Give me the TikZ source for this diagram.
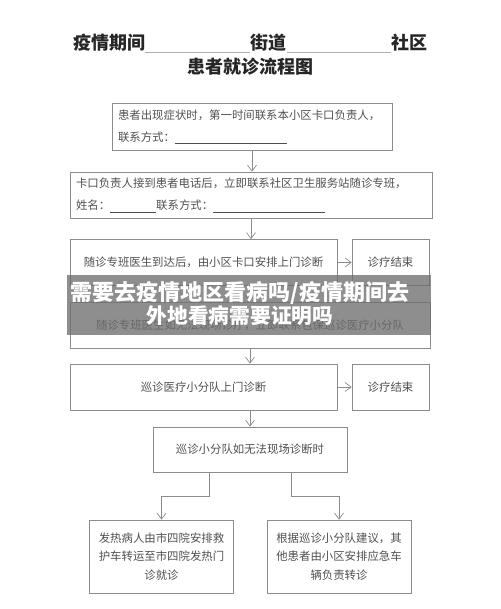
\documentclass[tikz,border=0pt]{standalone}
\usepackage{fontspec}
\newfontfamily\cjk{Noto Sans CJK SC}
\usetikzlibrary{arrows.meta}

\definecolor{linegray}{HTML}{8C8C8C}
\definecolor{textgray}{HTML}{4F4F4F}
\definecolor{bandgray}{HTML}{6E6E6E}

\newcommand{\blank}[1]{\textcolor{textgray}{\rule[-2.5pt]{#1}{0.5pt}}}

\begin{document}
\begin{tikzpicture}[x=1pt, y=-1pt,
  box/.style={draw=linegray, line width=0.7pt, text=textgray, inner xsep=6pt, inner ysep=0pt,
              font=\cjk\fontsize{11.4}{22}\selectfont, minimum height=46pt, align=center},
  lbox/.style={box, align=left},
  tbox/.style={box, font=\cjk\fontsize{11.4}{18.5}\selectfont, minimum height=73pt},
  head/.style={font=\cjk\bfseries\fontsize{18}{20}\selectfont, text=black!85, inner sep=0pt},
  arr/.style={-{Straight Barb[length=6pt, width=9pt]}, draw=linegray, line width=0.7pt}]
  \useasboundingbox (0,0) rectangle (500,609);
  % heading
  \node[head] (period) at (109,43) {疫情期间};
  \node[head] (street) at (268.5,43) {街道};
  \node[head] (comm)   at (409,43) {社区};
  \node[head] (title)  at (250.5,67) {患者就诊流程图};
  \draw[linegray!70, line width=0.6pt] (145,52) -- (250,52) (287,52) -- (391,52);
  % steps
  \node[lbox, text width=268pt, minimum height=47pt] (call) at (252,126.5)
    {患者出现症状时，第一时间联系本小区卡口负责人，\\联系方式：\blank{112pt}};
  \node[lbox, text width=350pt] (guard) at (251,195)
    {卡口负责人接到患者电话后，立即联系社区卫生服务站随诊专班，\\姓名：\blank{46pt}联系方式：\blank{112pt}};
  \node[box, minimum width=267pt] (visit) at (203.5,262.5) {随诊专班医生到达后，由小区卡口安排上门诊断};
  \node[box, minimum width=77pt] (endA) at (390.5,262.5) {诊疗结束};
  \node[box, minimum width=360pt] (team) at (250,325) {随诊专班医生如无法现场诊疗，立即联系包保巡诊医疗小分队};
  \node[box, minimum width=267pt] (patrol) at (203.5,387) {巡诊医疗小分队上门诊断};
  \node[box, minimum width=77pt] (endB) at (390.5,387) {诊疗结束};
  \node[box, minimum width=194pt, minimum height=45pt] (fail) at (250,449.5) {巡诊小分队如无法现场诊断时};
  \node[tbox, text width=132pt] (fever) at (161.5,556.5)
    {发热病人由市四院安排救\\护车转运至市四院发热门\\诊就诊};
  \node[tbox, text width=132pt] (other) at (339,556.5)
    {根据巡诊小分队建议，其\\他患者由小区安排应急车\\辆负责转诊};
  \coordinate (splitL) at (209,496);
  \coordinate (splitR) at (291,496);
  % connectors
  \draw[arr] (call.south) -- (call.south |- guard.north);
  \draw[arr] (guard.south) -- (guard.south |- visit.north);
  \draw[arr] (visit) -- (endA);
  \draw[arr] (visit.south -| team.north) -- (team.north);
  \draw[arr] (team.south) -- (team.south |- patrol.north);
  \draw[arr] (patrol) -- (endB);
  \draw[arr] (patrol.south -| fail.north) -- (fail.north);
  \draw[arr] (fail.south -| splitL) -- (splitL) -| (fever.north);
  \draw[arr] (fail.south -| splitR) -- (splitR) -| (other.north);
  % caption band
  \node[fill=bandgray, fill opacity=0.78, minimum width=364pt, minimum height=60pt, inner sep=0pt] (band) at (249,305) {};
  \node[text=white, align=center, font=\cjk\bfseries, inner sep=0pt] (caption) at (240,304)
    {{\fontsize{22}{28}\selectfont 需要去疫情地区看病吗/疫情期间去}\\{\fontsize{20.7}{28}\selectfont 外地看病需要证明吗}};
\end{tikzpicture}
\end{document}
